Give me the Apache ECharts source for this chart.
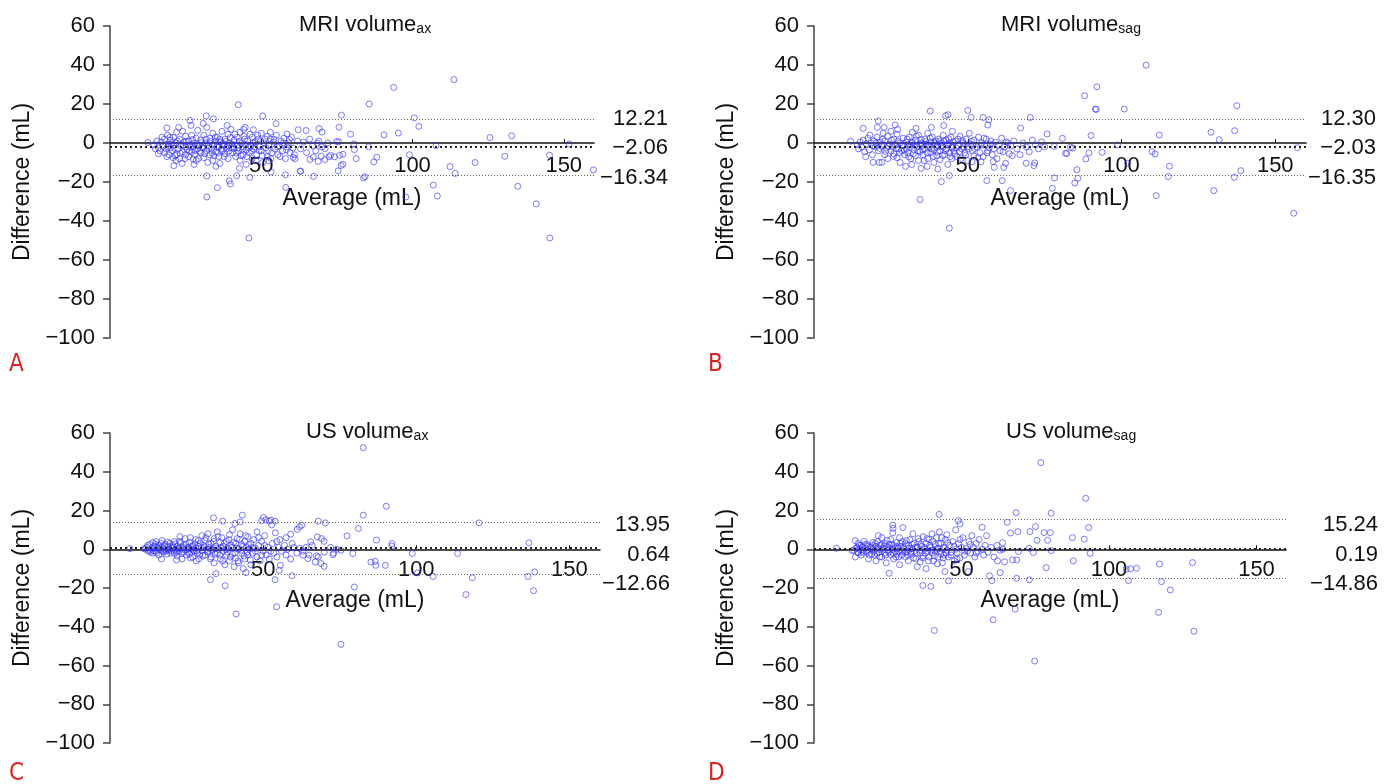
<!DOCTYPE html>
<html><head><meta charset="utf-8">
<script src="https://cdn.jsdelivr.net/npm/echarts@6/dist/echarts.min.js"></script>
<style>html,body{margin:0;padding:0;background:#fff}#c{width:1392px;height:784px}</style>
</head><body><div id="c"></div>
<script>
// ---------- DATA ----------
const titleMain = ['MRI volume', 'MRI volume', 'US volume', 'US volume'];
const titleSub = ['ax', 'sag', 'ax', 'sag'];
const panelLetters = ['A', 'B', 'C', 'D'];
const xAxisName = 'Average (mL)';
const yAxisName = 'Difference (mL)';
const xTickValues = [50, 100, 150];
const xRange = [0, 160];
const yRange = [-100, 60];
const yStep = 20;

// limits: [upper LoA, mean difference, lower LoA]
const limitsA = [12.21, -2.06, -16.34];
const limitsB = [12.30, -2.03, -16.35];
const limitsC = [13.95, 0.64, -12.66];
const limitsD = [15.24, 0.19, -14.86];

const clusterA = [
[14.5,-1],[15,-3],[15.5,1],[16,-2.5],[16.5,-4],[17,0.5],[17.5,-1.5],[18,-5],[18,2],[18.5,-3],[19,4],[19.5,-0.5],[19.5,-6],[20,1.5],[20,-2.5],[16,-5.5],[17.2,3],[18.8,-7],
[20.5,-4],[21,3],[21,-1],[21.5,-6.5],[22,0],[22,5.5],[22.5,-3],[23,-8],[23,2],[23.5,-1.5],[24,-4.5],[24,6],[24.5,0.5],[25,-2],[25,-6],[25,3.5],[21.8,-9],[23.8,-10.5],[22.7,8],
[25.5,-3.5],[26,1],[26,-7],[26.5,-1],[27,4],[27,-4.5],[27.5,-2],[28,0],[28,-6],[28.5,2.5],[28.5,-9],[29,-3],[29,6.5],[29.5,-1],[30,-5],[30,1.5],[26.8,9],[27.8,-11],[29.2,-8],
[30.5,-2.5],[31,4],[31,-7.5],[31.5,0],[32,-4],[32,8],[32.5,-1.5],[33,-6],[33,2.5],[33.5,-3],[34,5],[34,-9],[34.5,-0.5],[35,-4.5],[35,1],[35,-12],[30.8,10],[32.3,-10],[33.7,-5],
[35.5,3],[36,-2],[36,-7],[36.5,0.5],[37,6],[37,-4],[37.5,-1],[38,-5.5],[38,2],[38.5,-3],[39,-8],[39,4.5],[39.5,0],[40,-2.5],[40,7],[36.3,-10.5],[38.7,9],
[40.5,-5],[41,1.5],[41,-3],[41.5,-7],[42,3],[42,-1],[42.5,-4],[43,5.5],[43,-9],[43.5,0],[44,-2],[44,-6],[44.5,2],[45,-3.5],[45,-11],[42.8,-13],[44.2,7],
[45.5,1],[46,-5],[46.5,-1.5],[47,3],[47,-8],[47.5,-3],[48,0.5],[48.5,-6],[49,2],[49.5,-2],[50,-4],[50,5],[50.5,-10],[51,0],[51.5,-2.5],[52,3.5],[52,-7],
[52.5,-1],[53,2],[53.5,-5],[54,0.5],[54.5,-3],[55,4],[55.5,-6],[56,-1.5],[56.5,1],[57,-4],[57.5,2.5],[58,-8],[58.5,-2],[59,0],[59.5,-5],[60,3],[60.5,-2.5],[61,-6],[62,1],
[63,-3],[64,0.5],[65,-5],[66,2],[67,-1.5],[68,-4],[69,1],[70,-2],[71,-8.5],[72,0],
[19.2,-2],[20.2,-0.5],[21.3,-2.8],[22.3,1],[23.2,-5.2],[24.2,-1],[25.2,0.8],[26.2,-4],[26.7,-2.2],[27.3,1.8],[28.2,-3.8],[28.8,-1.2],[29.7,-4.2],[30.2,0.2],[30.8,-1.8],[31.3,-5.5],[31.8,2],[32.7,-2.7],[33.2,0.8],[33.8,-1],[34.3,-6.5],[34.8,3],[35.3,-2],[35.8,-5],[36.3,1.8],[36.8,-3.2],[37.3,-0.2],[37.8,-7],[38.3,0.8],[38.8,-1.8],[39.3,-4.2],[39.8,2.8],[40.3,-0.5],[40.8,-2],[41.3,4.5],[41.8,-5.2],[42.3,-2.5],[42.7,0.8],[43.3,-6.5],[43.8,-3.2],[44.3,3.5],[44.8,-1],[45.3,-7],[45.8,-2.2],[46.3,4.5],[46.8,-4],[47.3,0],[47.8,-2],[48.3,-9],[48.8,4],[49.3,-4],[49.8,1],[50.3,-6.5],[51.3,2],[52.3,-4],[53.2,-8],[54.2,2],[55.3,-2],[56.2,-7],[57.3,0],[58.3,-3.5],[59.3,1.8],[27.5,-8.2],[24.8,-8],[22,-6],[20.8,-7.5],[19.8,3]
];
const outerA = [
[113.7,32.5],[93.8,28.5],[85.7,20],[42.4,19.6],[100.6,12.9],[76.5,14.3],[50.5,13.9],[31.8,13.9],[34.2,12.4],[26.4,11.6],[54.9,9.9],[102.1,8.5],[95.3,5.1],[90.6,4.2],[125.6,2.8],[132.8,3.7],[151.8,-0.5],[107.8,-1.4],[99,-6],[130.5,-6.8],[145.3,-6.2],[120.7,-10],[112.4,-12.1],[114.1,-15.6],[159.8,-13.8],[106.9,-21.6],[108.2,-27.2],[97.8,-27.7],[134.8,-22.2],[140.9,-31.2],[145.4,-48.7],[45.9,-48.7],[83.8,-17.9],[84.3,-17.3],[87.2,-9.7],[88.2,-7.3],[81.4,-8],[80.6,-0.5],[80.8,-3.4],[85.5,-1.9],[75.6,0.6],[75.7,8.1],[79.5,4.5],[77,-5.8],[75.9,-6.3],[77,-10.9],[76.4,-11.5],[75.4,-14.3],[72.9,-6.3],[69.1,7.4],[70.1,5.6],[64.8,6.4],[62.2,6.8],[68.5,0],[67.3,-17.1],[62.9,-14.5],[58,-16.3],[58.1,-22.8],[66.1,-8.5],[68.8,-9.4],[67.2,-7.2],[69.8,-6.8],[71.1,-2.9],[74.2,-7.1],[72.4,-7.1],[74.9,0.8],[60.6,-7.4],[61.2,-8.1],[46.2,-17.6],[41.9,-16.8],[32,-16.9],[35.5,-22.9],[32,-27.7],[39.4,-19.4],[39.8,-21],[21.1,-11.6],[18.8,7.7],[12.5,0.3],[44.7,8],[47.4,6.8],[53,5.5],[58.5,4.6],[52.6,-9.2],[53.2,-14.9],[63,-14.4]
];

const clusterB = [
[14,-1],[14.5,-3],[15,0.5],[15.5,-2],[16,1.5],[16.5,-4.5],[17,-0.5],[17.5,2.5],[18,-3.5],[18.5,0],[19,-6],[19.5,1],[20,-2],[16.8,-7],[18.2,4],
[20.5,3],[21,-4],[21.5,0.5],[22,-1.5],[22.5,5],[23,-6],[23,1],[23.5,-2.5],[24,-8],[24,3.5],[24.5,-0.5],[25,-4],[25,6],[21.2,-10],[22.8,8],
[25.5,-2],[26,2],[26,-5.5],[26.5,-1],[27,4.5],[27,-7.5],[27.5,-3],[28,0],[28,-10],[28.5,-4],[29,2.5],[29,-1.5],[29.5,-6],[30,0.5],[30,-3],[27.2,7],[29.8,-12],
[30.5,-5],[31,3],[31,-1],[31.5,-8],[32,0],[32,5.5],[32.5,-3.5],[33,-6.5],[33,1.5],[33.5,-2],[34,-9],[34,4],[34.5,-4.5],[35,0],[35,-1.5],[31.8,-11],[33.2,7.5],[34.8,-13],
[35.5,-6],[36,2],[36,-3],[36.5,-0.5],[37,-8],[37,5],[37.5,-2],[38,0.5],[38,-5],[38.5,3],[39,-3.5],[39,-10],[39.5,1],[40,-1],[40,-6.5],[36.8,-12],[38.2,8],
[40.5,2],[41,-4],[41,-8.5],[41.5,0],[42,-2],[42,4],[42.5,-6],[43,1.5],[43,-3],[43.5,-11],[44,0],[44,-5],[44.5,3],[45,-2.5],[45,6],[42.2,9],[44.8,-8],
[45.5,-4],[46,1],[46.5,-7],[47,-1.5],[47.5,3.5],[48,-3],[48.5,0],[49,-5],[49.5,2],[50,-2],[50,-9],[50.5,5],[51,-0.5],[51.5,-4],[52,1.5],[52,-6.5],
[53,-2],[53.5,3],[54,-5],[54.5,0],[55,-7],[55.5,-1],[56,2],[56.5,-4],[57,-2.5],[57.5,1],[58,-6],[58.5,-3],[59,0.5],[59.5,-8],[60,-1],[61,2.5],[61.5,-4.5],[62,-2],[63,0],[63.5,-5.5],[64,-1.5],[65,1],
[66,-3],[67,-6],[68,0],[69,-2],[70,-4.5],[71,1.5],[72,-1],[73,-3],[74,0.5],[75,-2],
[19.3,-1.5],[20.2,0],[21.3,-2.7],[22.3,2],[23.3,-4.2],[24.2,-1.8],[25.2,1.5],[25.8,-6.8],[26.7,-2.8],[27.3,0.8],[27.8,-5],[28.7,-1],[29.3,-3.8],[30.3,2],[30.8,-7],[31.3,-2.2],[31.8,0.5],[32.3,-5.5],[32.8,-1],[33.3,3.5],[33.8,-4],[34.3,-0.5],[34.8,1.8],[35.3,-3.5],[35.8,-9],[36.3,0.8],[36.8,-5],[37.3,-1.2],[37.8,2.5],[38.3,-3],[38.8,-6.8],[39.3,0],[39.8,-2.2],[40.3,-4.5],[40.8,0.8],[41.3,-1.5],[41.8,-6.5],[42.3,1],[42.8,-3.8],[43.3,-0.8],[43.8,2.2],[44.3,-7],[44.8,-2],[45.3,0.5],[45.8,-5.5],[46.3,-2.5],[46.8,2],[47.3,-4.5],[47.8,-8],[48.3,1.2],[48.8,-2],[49.3,-6.2],[50.3,-3],[51.3,0.8],[52.3,-2.8],[53.3,-7.5],[54.3,-1.2],[55.3,2.5],[56.3,-5],[57.3,-0.5],[58.3,-9.5],[60.5,-4],[62.5,0.5],[64.5,-6.5]
];
const outerB = [
[108,39.9],[92,28.8],[88,24.2],[91.5,17.4],[91.8,17.2],[100.9,17.4],[137.5,19.1],[90.1,3.8],[112.3,4.1],[129.1,5.5],[131.8,1.7],[136.8,6.3],[98.7,-1],[157.2,-2.4],[89.4,-5.1],[93.7,-4.8],[88.4,-8.2],[109.9,-4.4],[110.9,-5.6],[102,-10.4],[115.6,-11.9],[115.2,-17.2],[136.7,-17.6],[138.8,-14.2],[111.3,-27],[130,-24.4],[156,-36],[85.5,-13.7],[85.8,-18.1],[84.8,-20.5],[78.2,-17.9],[77.5,-23.2],[63.9,-24.4],[61.2,-19.3],[56.2,-19.3],[44,-43.7],[34.5,-29],[41.4,-19.8],[44,-16.7],[37.8,16.4],[50,16.7],[42.8,14],[43.6,14.5],[51.1,13.1],[55,13.1],[56.9,11.9],[56.5,9.2],[70.3,13.1],[67.2,7.7],[75.8,4.6],[80.8,2.4],[20.9,11.3],[20.6,8],[16,7.5],[26.4,9.2],[11.9,0.9],[19.2,-9.9],[22.1,-9.9],[81.8,-5.3],[82.2,-5.4],[83.4,-2.2],[84.1,-2.6],[78.1,-1.7],[71.8,-10.2],[71.5,-11.6],[69,-10.4],[61.7,-12.5],[62.3,-10.4],[58.6,-12.5],[51.4,-9.6],[54.3,-9.6],[40.3,-13.3]
];

const clusterC = [
[12,1],[12.5,-1],[13,2.5],[13,-0.5],[13.5,0],[14,3.5],[14,-2],[14.5,1.5],[15,-1],[15,4],
[15.5,0.5],[16,2],[16,-3],[16.5,-0.5],[17,1],[17,4.5],[17.5,-1.5],[18,0],[18,2.5],[18.5,-2.5],[19,1.5],[19,-0.5],[19.5,3],[20,-1],[20,0.5],[16.8,-5],
[20.5,2],[21,-2],[21,4],[21.5,0],[22,1.5],[22,-3.5],[22.5,-1],[23,3],[23,0.5],[23.5,-5],[24,2],[24,-1.5],[24.5,5.5],[25,0],[25,-3],[22.8,6.5],[21.7,-5.5],
[25.5,1],[26,-2.5],[26,3.5],[26.5,0],[27,-4],[27,2],[27.5,-1],[28,5],[28,0.5],[28.5,-2],[29,1.5],[29,-5],[29.5,3],[30,-0.5],[30,7],[26.2,6],[28.2,-6],
[30.5,2],[31,-3],[31,4.5],[31.5,0],[32,-1.5],[32,8],[32.5,1],[33,-4],[33,3],[33.5,-0.5],[34,5.5],[34,-7],[34.5,1.5],[35,-2],[35,9],
[35.5,0],[36,3.5],[36,-5],[36.5,6],[37,-1],[37,1.5],[37.5,-8],[38,4],[38,-3],[38.5,0.5],[39,7.5],[39,-6],[39.5,2],[40,-2.5],[40,10],
[40.5,-9],[41,3],[41,-4.5],[41.5,5.5],[42,0],[42,-7],[42.5,8],[43,-2],[43,2.5],[43.5,-10],[44,4],[44,-5],[44.5,1],[45,-3],[45,6.5],
[45.5,0],[46,3],[46,-8],[46.5,-2],[47,5],[47.5,0.5],[48,-4],[48,9],[48.5,2],[49,-6],[49.5,4],[50,-1],[50.5,7],[51,-3],[51.5,1],[52,-5],
[53,3],[53.5,-2],[54,8.5],[54.5,-4],[55,1],[55.5,5],[56,-1],[57,2],[57.5,-3],[58,0],[59,-5],[59.5,3],[60,1],[61,-2],
[62,0.5],[63,-1],[64,1],[65,-3],[66,2],[68,-4],[70,-1.5],[72,1],[73,-2],[74,0],
[11.5,0],[12.3,2],[13.2,-1.5],[13.8,1],[14.3,-0.8],[14.8,2.5],[15.3,-2],[15.8,1.2],[16.3,0],[16.7,3],[17.3,-0.8],[17.8,1.8],[18.3,-1],[18.8,3.8],[19.3,0],[19.8,-2],[20.3,1.2],[20.8,-0.5],[21.3,2.8],[21.8,-1.5],[22.3,0.5],[22.7,4],[23.3,-2.2],[23.8,1],[24.3,-0.2],[24.8,2.5],[25.3,-1.5],[25.8,0.5],[26.3,-4.5],[26.8,1.5],[27.3,-0.5],[27.8,3],[28.3,-1],[28.8,4.5],[29.3,-2.8],[29.8,0.8],[30.3,-3.5],[30.8,1],[31.3,6],[31.8,-1],[32.3,2.8],[32.8,-5],[33.3,0],[33.8,4],[34.3,-2.5],[34.8,0.5],[35.3,6.5],[35.8,-3],[36.3,1],[36.8,-6],[37.3,3],[37.8,0],[38.3,-1.5],[38.8,5],[39.3,-4],[39.8,1],[40.3,3.5],[40.8,-2],[41.3,0.5],[41.8,-6],[42.3,5],[42.8,-0.5],[43.3,1.5],[43.8,-3.5],[44.3,7],[44.8,-1.5],[45.3,2.5],[45.8,-5.5],[46.5,1],[47.5,-1],[48.5,6],[49.5,-3],[50.5,2],[52.5,-1],[54.5,4]
];
const outerC = [
[82.7,52.4],[90.2,22.2],[82.7,17.6],[81.1,10.7],[77.4,6.9],[87,4.7],[92.1,2.9],[92,1.6],[120.5,13.6],[136.8,3.3],[98.7,-2.2],[113.5,-2.2],[79.3,-2.2],[85.2,-6.6],[86.8,-8.3],[86.6,-6.2],[89.9,-8.3],[100.4,-12.2],[105.5,-14],[118.3,-14.7],[136.5,-14],[138.7,-11.7],[138.3,-21.4],[116.2,-23.4],[79.8,-19.5],[75.4,-49.1],[41.2,-33.4],[54.4,-29.7],[37.6,-18.8],[32.8,-15.7],[34.6,-12.6],[44.4,-12.1],[53.9,-15.7],[59.4,-13.6],[55.3,-10.9],[55.6,-8.3],[68,14.5],[70.3,13.6],[67.7,6.4],[69.1,5.5],[69.9,4.1],[65.5,3.8],[61.9,11.6],[62.6,12.4],[61.1,10.2],[59,7.8],[57.5,6],[50.1,16.4],[50.9,15.2],[52,14.5],[52.5,15],[52.8,12.6],[53.9,14.5],[49.5,14.7],[43.2,17.6],[33.8,16.2],[36.8,14.5],[40.8,13.3],[42.5,14.1],[6.5,0.3],[11.2,0.3],[67,-6.6],[68.9,-7.4],[69.9,-8.8],[72.8,-2.8],[75.4,-0.5],[67.4,-3.4],[63,-3.1],[64.6,-4.8]
];

const clusterD = [
[13.5,-0.5],[14,4.5],[14,-4],[14.5,1],[15,-2],[15,3],[15.5,0],[16,-3],[16,2],[16.5,-1],[17,4],[17.5,0.5],[18,-1.5],[18,2.5],[18.5,-5],[19,1],[19.5,-2.5],[20,3.5],[20,0],
[20.5,-3],[21,1.5],[21,-6],[21.5,4],[22,0],[22,-1.5],[22.5,2],[23,-4],[23,6],[23.5,0.5],[24,-2],[24,3],[24.5,-7],[25,1],[25,-0.5],[21.8,7],
[25.5,2.5],[26,-3],[26,5],[26.5,0],[27,-5],[27,2],[27.5,-1],[28,3.5],[28,-2.5],[28.5,0.5],[29,6],[29,-8],[29.5,1.5],[30,-1],[30,4],[26.7,8.5],[28.7,-4],
[30.5,0],[31,-4],[31,3],[31.5,-1.5],[32,2],[32,-6],[32.5,5],[33,0.5],[33,-2.5],[33.5,8],[34,-1],[34,3],[34.5,-5],[35,1],[35,-9],
[35.5,4],[36,-2],[36,-6.5],[36.5,1.5],[37,6.5],[37,-3.5],[37.5,0],[38,3],[38,-10],[38.5,-1],[39,5],[39,-4],[39.5,1],[40,-2],[40,8],
[40.5,-6],[41,2.5],[41,-1],[41.5,6],[42,-4],[42,0.5],[42.5,9],[43,-2.5],[43,3],[43.5,-7],[44,1],[44,-3],[44.5,5],[45,-0.5],[45,7.5],
[45.5,-4],[46,2],[46.5,-1.5],[47,4],[47.5,-6],[48,0],[48,10],[48.5,-2],[49,3],[49.5,-4.5],[50,1],[50.5,6],[51,-3],[51.5,0.5],[52,-1],
[52.5,4],[53,-2],[53.5,7],[54,1],[54.5,-4],[55,3],[55.5,-1],[56,5],[57,0],[57.5,-3],[58,2],[58.5,7],[59,-1.5],[60,1],[61,-4],[62,2],[63,-0.5],[64,0],
[14.3,0.5],[14.8,-1.5],[15.3,2],[15.8,-0.5],[16.3,1],[16.8,-2],[17.3,2.5],[17.8,-0.8],[18.3,1.5],[18.8,-3],[19.3,0.2],[19.8,2],[20.3,-1],[20.8,3],[21.3,-2.2],[21.8,0.8],[22.3,-4],[22.8,2.5],[23.3,-0.5],[23.8,1.5],[24.3,-3],[24.8,4.5],[25.3,-1.5],[25.8,0.5],[26.3,2.5],[26.8,-2],[27.3,0.8],[27.8,-4],[28.3,1.5],[28.8,-1],[29.3,3],[29.8,-3],[30.3,1],[30.8,-1.5],[31.3,4.5],[31.8,-3],[32.3,0.5],[32.8,-1.5],[33.3,2.5],[33.8,-4.5],[34.3,1],[34.8,-2],[35.3,5.5],[35.8,-0.5],[36.3,2.5],[36.8,-4.5],[37.3,1],[37.8,-2],[38.3,5.5],[38.8,-6],[39.3,2],[39.8,-0.5],[40.3,4],[40.8,-3.5],[41.3,0],[41.8,-7.5],[42.3,3],[42.8,-1],[43.3,6],[43.8,-4.5],[44.3,0.5],[44.8,-2],[45.3,3.5],[46.5,-3],[47.5,1.5],[48.5,-5],[49.5,5],[51,-1],[53,2.5],[55,-2]
];
const outerD = [
[76.9,44.7],[92.1,26.3],[74.8,-57.7],[93.1,11.2],[87.6,6],[91.6,5.2],[93.6,-2.1],[87.9,-6],[80.4,18.6],[80.1,8.6],[79.2,4.6],[78.7,-9.5],[80.4,-0.7],[68.5,18.9],[65.5,13.9],[66.6,8.4],[69.1,9.1],[73.2,9.1],[75.1,11.7],[78,8.6],[75.6,4.6],[72.9,0.5],[74.4,-1.7],[69.3,-1.2],[68.7,-5.5],[67.3,-5.5],[68.7,-15],[73,-15.8],[68.2,-30.9],[60.7,-36.4],[59.5,-13.7],[60.3,-16.2],[63.1,-12],[62.2,-6],[64.6,-6.5],[63.9,3.4],[40.8,-41.9],[39.6,-19.2],[36.9,-18.7],[42.4,18],[48.9,14.8],[49.5,13.1],[57,11.3],[26.7,12.5],[26.8,10.8],[30.1,11.2],[25.5,-12.4],[45.6,-16.3],[44.4,-11.5],[52.3,-11.5],[7.6,0.5],[12.9,-0.7],[105.8,-10.3],[107.3,-10.1],[109.3,-9.8],[106.6,-16.2],[117.1,-7.6],[117.8,-16.7],[120.8,-21],[116.8,-32.6],[128.3,-6.9],[128.8,-42.3]
];

// ---------- LAYOUT / STYLE ----------
const FONT = '"Liberation Sans", Arial, Helvetica, sans-serif';
const TXT = '#111';
const layout = [
  {left:110, top:26,  width:484, height:312, titleLeft:299,  titleTop:10,  nameGap:44, labelMargin:12, labelDist:74, shifts:[0,1,3],  letter:[9,353]},
  {left:814, top:26,  width:492, height:312, titleLeft:1001, titleTop:10,  nameGap:44, labelMargin:12, labelDist:70, shifts:[0,1,3],  letter:[708,353]},
  {left:110, top:433, width:490, height:310, titleLeft:306,  titleTop:417, nameGap:40, labelMargin:10, labelDist:70, shifts:[3,7,10], letter:[9,762]},
  {left:814, top:433, width:472, height:310, titleLeft:1006, titleTop:417, nameGap:40, labelMargin:10, labelDist:92, shifts:[5,6,6],  letter:[708,762]}
];
const pointsAll = [clusterA.concat(outerA), clusterB.concat(outerB), clusterC.concat(outerC), clusterD.concat(outerD)];
const limitsAll = [limitsA, limitsB, limitsC, limitsD];
const minus = s => String(s).replace('-', '\u2212');
const fmt = v => minus(v.toFixed(2));
// pixel offset that moves the x axis from the grid bottom to y = 0
const zeroOffset = L => -L.height * (0 - yRange[0]) / (yRange[1] - yRange[0]);

const option = {
  animation: false,
  backgroundColor: '#fff',
  textStyle: {fontFamily: FONT},
  title: layout.map((L, i) => ({
    text: '{m|' + titleMain[i] + '}{s|' + titleSub[i] + '}',
    left: L.titleLeft, top: L.titleTop, padding: 0,
    textStyle: {fontWeight: 'normal', rich: {
      m: {fontSize: 22, fontWeight: 'normal', color: TXT, fontFamily: FONT, lineHeight: 26, verticalAlign: 'bottom'},
      s: {fontSize: 14, fontWeight: 'normal', color: TXT, fontFamily: FONT, lineHeight: 14, verticalAlign: 'bottom', padding: [6, 0, 0, 0]}
    }}
  })),
  grid: layout.map(L => ({left: L.left, top: L.top, width: L.width, height: L.height, outerBoundsMode: 'none', containLabel: false})),
  xAxis: layout.map((L, i) => ({
    type: 'value', gridIndex: i, min: xRange[0], max: xRange[1], position: 'bottom',
    offset: zeroOffset(L),
    name: xAxisName, nameLocation: 'middle', nameGap: L.nameGap,
    nameTextStyle: {fontSize: 23, color: TXT, fontFamily: FONT},
    axisLine: {onZero: false, lineStyle: {color: '#111', width: 1.5}},
    axisTick: {inside: true, length: 4, customValues: xTickValues, lineStyle: {color: '#111', width: 1}},
    axisLabel: {customValues: xTickValues, margin: L.labelMargin, fontSize: 22, color: TXT, fontFamily: FONT},
    splitLine: {show: false}
  })),
  yAxis: layout.map((L, i) => ({
    type: 'value', gridIndex: i, min: yRange[0], max: yRange[1], interval: yStep,
    name: yAxisName, nameLocation: 'middle', nameGap: 76,
    nameTextStyle: {fontSize: 23, color: TXT, fontFamily: FONT},
    axisLine: {show: true, onZero: false, lineStyle: {color: '#444', width: 1.5}},
    axisTick: {show: true, length: 7, lineStyle: {color: '#444', width: 1.5}},
    axisLabel: {margin: 15, fontSize: 22, color: TXT, fontFamily: FONT, formatter: v => minus(v)},
    splitLine: {show: false}
  })),
  series: layout.map((L, i) => ({
    type: 'scatter', xAxisIndex: i, yAxisIndex: i,
    data: pointsAll[i],
    symbol: 'circle', symbolSize: 6,
    itemStyle: {color: 'rgba(255,255,255,0)', borderColor: 'rgba(50,50,255,0.8)', borderWidth: 1},
    markLine: {
      silent: true, symbol: ['none', 'none'], animation: false,
      data: limitsAll[i].map((v, k) => {
        const s = L.shifts[k];
        return {
          yAxis: v,
          lineStyle: k === 1 ? {color: '#222', width: 2, type: [2, 3]} : {color: '#666', width: 1, type: [1, 2]},
          label: {
            show: true, position: 'end', distance: L.labelDist, align: 'right', verticalAlign: 'middle',
            formatter: () => '{t|' + fmt(v) + '}',
            rich: {t: {fontSize: 22, color: TXT, fontFamily: FONT,
              padding: s >= 0 ? [2 * s, 0, 0, 0] : [0, 0, -2 * s, 0]}}
          }
        };
      })
    }
  })),
  graphic: layout.map((L, i) => ({
    type: 'text', left: L.letter[0], top: L.letter[1],
    style: {text: panelLetters[i], fill: '#e0201f', font: '24px "Liberation Sans Narrow", "DejaVu Sans Condensed", sans-serif'}
  }))
};

const chart = echarts.init(document.getElementById('c'), null, {renderer: 'canvas'});
chart.setOption(option);
</script>
</body></html>
